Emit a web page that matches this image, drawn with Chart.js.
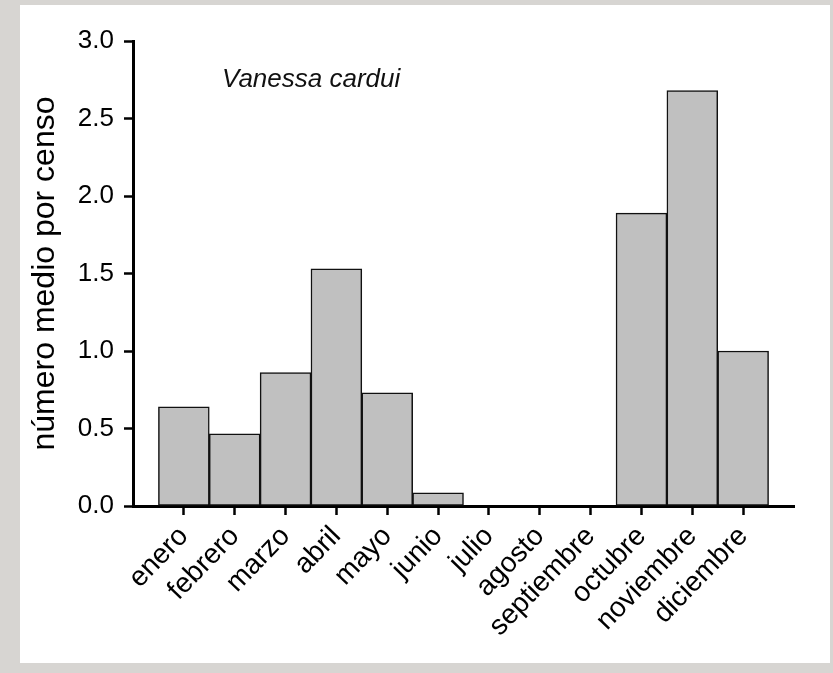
<!DOCTYPE html>
<html>
<head>
<meta charset="utf-8">
<script src="https://cdn.jsdelivr.net/npm/chart.js@4"></script>
<style>
    html, body { margin: 0; padding: 0; }
    body { width: 833px; height: 673px; background: #d7d5d2; position: relative; overflow: hidden; }
    #panel { position: absolute; left: 20px; top: 5px; width: 810px; height: 658px; background: #fff; }
</style>
</head>
<body>
<div id="panel"><canvas id="chart" width="810" height="658"></canvas></div>
<script>
const months = [
    'enero', 'febrero', 'marzo', 'abril', 'mayo', 'junio',
    'julio', 'agosto', 'septiembre', 'octubre', 'noviembre', 'diciembre'
];
const meanPerCensus = [0.64, 0.465, 0.86, 1.53, 0.73, 0.085, 0, 0, 0, 1.89, 2.68, 1.0];
const yTicks = [0, 0.5, 1.0, 1.5, 2.0, 2.5, 3.0];
const speciesName = 'Vanessa cardui';
const yAxisLabel = 'número medio por censo';

const FONT = '"Liberation Sans", Arial, Helvetica, sans-serif';

// Species name written inside the plot area, top left
const speciesLabel = {
    id: 'speciesLabel',
    afterDraw(chart) {
        const { ctx, chartArea } = chart;
        ctx.save();
        ctx.font = 'italic 26px ' + FONT;
        ctx.fillStyle = '#111';
        ctx.textBaseline = 'middle';
        ctx.fillText(speciesName, chartArea.left + 89, chartArea.top + 39);
        ctx.restore();
    }
};

const ctx = document.getElementById('chart').getContext('2d');

new Chart(ctx, {
    type: 'bar',
    data: {
        datasets: [{
            data: meanPerCensus.map((v, i) => ({ x: i, y: v })),
            backgroundColor: '#c0c0c0',
            borderColor: '#111',
            borderWidth: 1.5,
            borderSkipped: false,
            barPercentage: 1,
            categoryPercentage: 1
        }]
    },
    options: {
        responsive: false,
        animation: false,
        layout: { padding: { left: 0, right: 36, top: 36, bottom: 0 } },
        plugins: {
            legend: { display: false },
            tooltip: { enabled: false }
        },
        scales: {
            x: {
                type: 'linear',
                min: -1,
                max: 12,
                offset: false,
                z: 1,
                afterBuildTicks: axis => {
                    axis.ticks = months.map((_, i) => ({ value: i }));
                },
                afterFit: axis => { axis.height = 157; },
                ticks: {
                    autoSkip: false,
                    minRotation: 46,
                    maxRotation: 46,
                    padding: 5,
                    color: '#000',
                    font: { family: FONT, size: 28 },
                    callback: v => months[v]
                },
                grid: {
                    offset: false,
                    drawOnChartArea: false,
                    drawTicks: true,
                    tickLength: 9,
                    tickWidth: 2.5,
                    tickColor: '#000'
                },
                border: { display: true, color: '#000', width: 3 }
            },
            y: {
                min: 0,
                max: 3,
                z: 1,
                afterBuildTicks: axis => {
                    axis.ticks = yTicks.map(v => ({ value: v }));
                },
                afterFit: axis => { axis.width = 113; },
                ticks: {
                    padding: 10,
                    color: '#000',
                    font: { family: FONT, size: 26 },
                    callback: v => v.toFixed(1)
                },
                grid: {
                    drawOnChartArea: false,
                    drawTicks: true,
                    tickLength: 9,
                    tickWidth: 2.5,
                    tickColor: '#000'
                },
                border: { display: true, color: '#000', width: 3 },
                title: {
                    display: true,
                    text: yAxisLabel,
                    color: '#000',
                    font: { family: FONT, size: 32 },
                    padding: { top: 6, bottom: 0 }
                }
            }
        }
    },
    plugins: [speciesLabel]
});
</script>
</body>
</html>
